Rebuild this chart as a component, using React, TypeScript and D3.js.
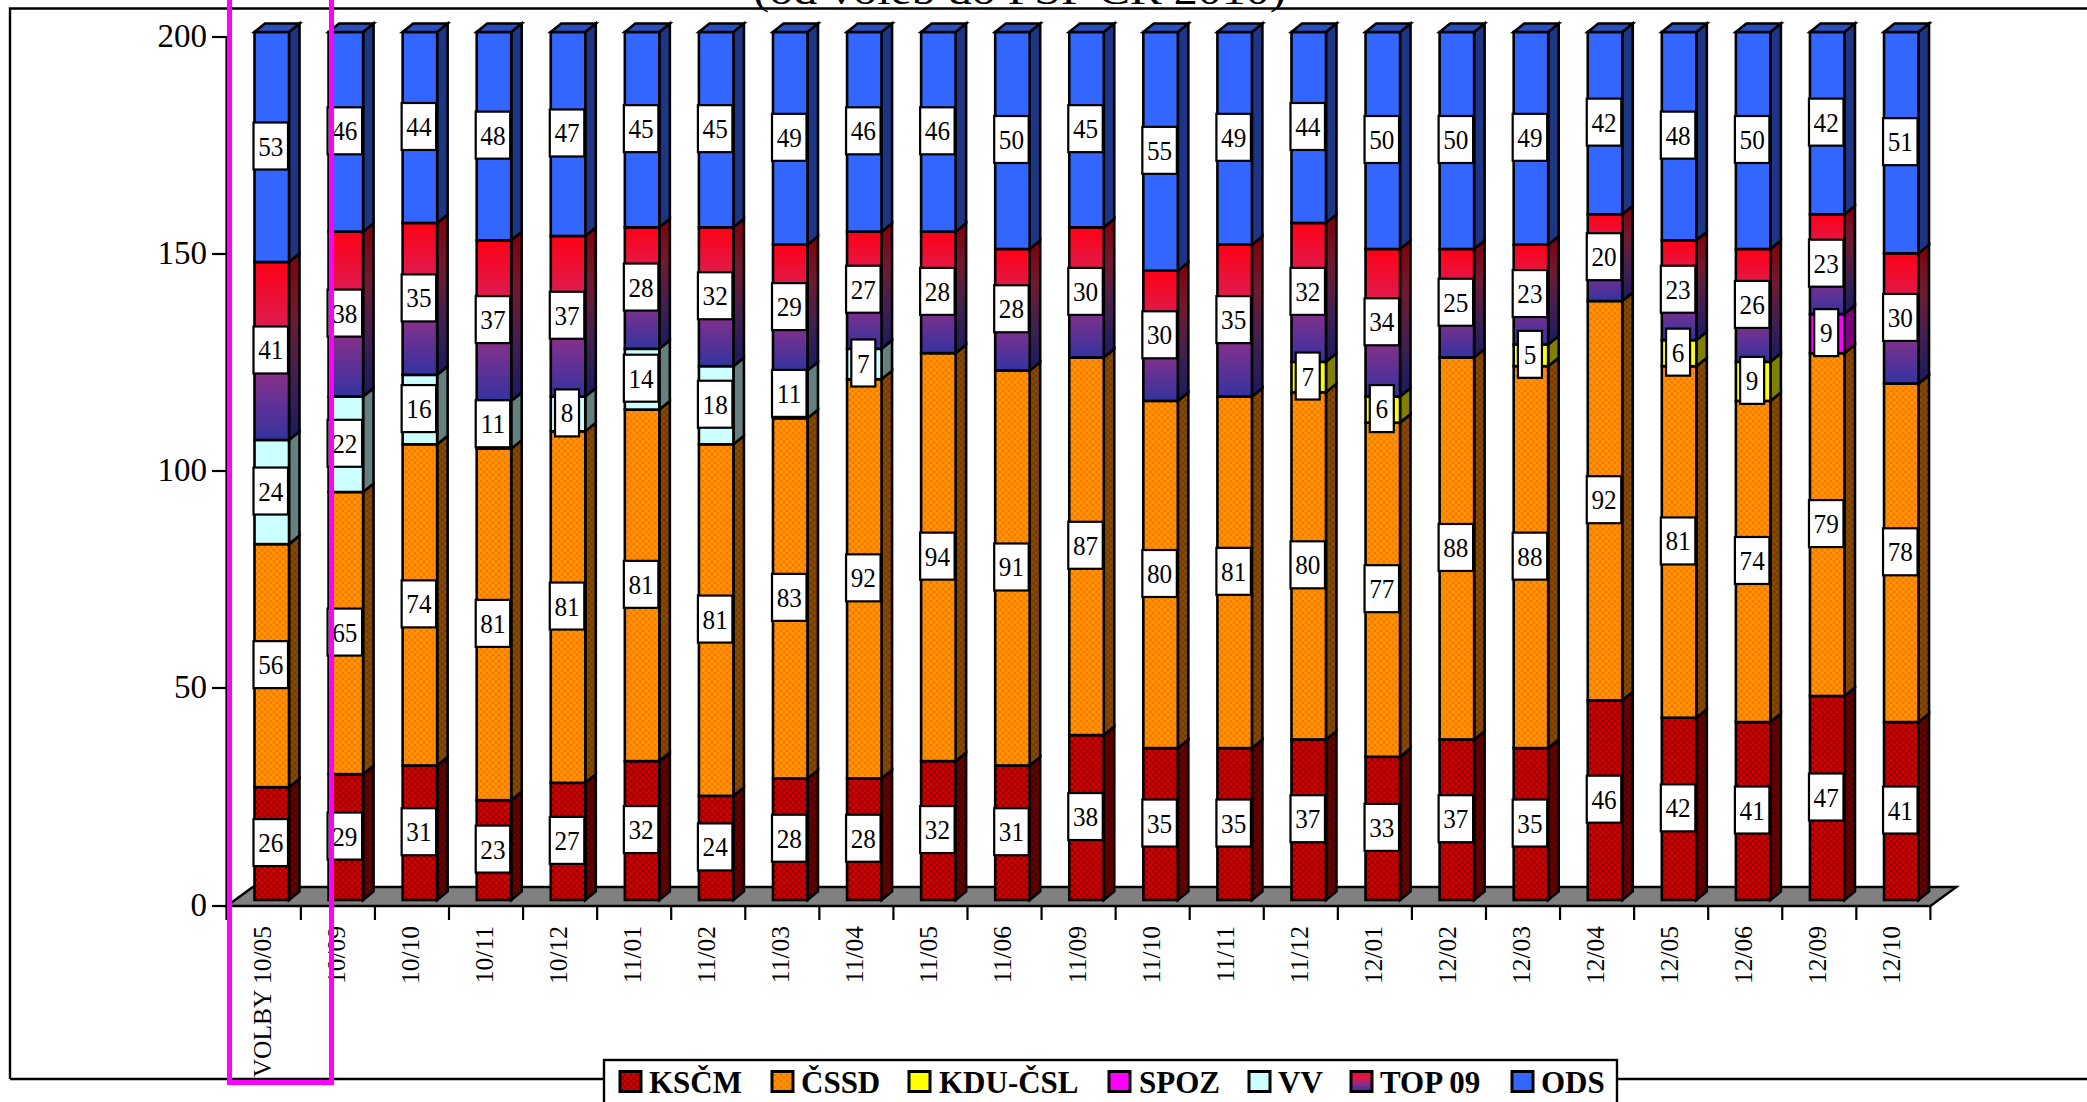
import React from "react";
import * as d3 from "d3";

const categories = ["VOLBY 10/05","10/09","10/10","10/11","10/12","11/01","11/02","11/03","11/04","11/05","11/06","11/09","11/10","11/11","11/12","12/01","12/02","12/03","12/04","12/05","12/06","12/09","12/10"];
const KSCM = [26,29,31,23,27,32,24,28,28,32,31,38,35,35,37,33,37,35,46,42,41,47,41];
const CSSD = [56,65,74,81,81,81,81,83,92,94,91,87,80,81,80,77,88,88,92,81,74,79,78];
const KDU = [0,0,0,0,0,0,0,0,0,0,0,0,0,0,7,6,0,5,0,6,9,0,0];
const SPOZ = [0,0,0,0,0,0,0,0,0,0,0,0,0,0,0,0,0,0,0,0,0,9,0];
const VV = [24,22,16,11,8,14,18,11,7,0,0,0,0,0,0,0,0,0,0,0,0,0,0];
const TOP09 = [41,38,35,37,37,28,32,29,27,28,28,30,30,35,32,34,25,23,20,23,26,23,30];
const ODS = [53,46,44,48,47,45,45,49,46,46,50,45,55,49,44,50,50,49,42,48,50,42,51];
const yTicks = [0,50,100,150,200];
const seriesNames = ["KSČM","ČSSD","KDU-ČSL","SPOZ","VV","TOP 09","ODS"];
const seriesValues = [KSCM,CSSD,KDU,SPOZ,VV,TOP09,ODS];
const frontFills = ["url(#pRed)","url(#pOrange)","#ffff00","#ff00ff","#ccffff","url(#gTop)","#3366ff"];
const sideFills = ["url(#pRedD)","url(#pOrangeD)","#808000","#800080","#668080","url(#gTopD)","#1c3685"];
const legendSwatchX = [620,772,909,1109,1249,1351,1512];
const legendTextX = [649,801,939,1139,1278,1380,1541];
const titleText = "(od voleb do PSP ČR 2010)";

const x = d3.scaleLinear().domain([0, 23]).range([226.8, 1930.4]);
const y = d3.scaleLinear().domain([0, 200]).range([900, 32]);
const floorY = 906;
const barOffset = 27.7;
const barW = 34.5;
const dx = 10.5;
const dy = 8.5;
const serif = "'Liberation Serif','Times New Roman',serif";

const rows = categories.map((c, i) => {
  const r: Record<string, number | string> = { c };
  seriesNames.forEach((s, j) => (r[s] = seriesValues[j][i]));
  return r;
});
const stacked = d3.stack<any>().keys(seriesNames)(rows as any);
const line = d3.line();

function Patterns() {
  const weave = (id: string, base: string, dark: string, light: string) => (
    <pattern id={id} width="6" height="6" patternUnits="userSpaceOnUse">
      <rect width="6" height="6" fill={base} />
      <path d="M0 0h2v2H0zM3 3h2v2H3z" fill={dark} />
      <path d="M3 0h2v2H3zM0 3h2v2H0z" fill={light} />
    </pattern>
  );
  return (
    <defs>
      {weave("pRed", "#b80000", "#900000", "#dc0000")}
      {weave("pRedD", "#5c0000", "#480000", "#6e0000")}
      {weave("pOrange", "#ff8a00", "#f07800", "#ff9800")}
      {weave("pOrangeD", "#804400", "#703a00", "#8c4c00")}
      <linearGradient id="gTop" x1="0" y1="0" x2="0" y2="1">
        <stop offset="0" stopColor="#ff0015" />
        <stop offset="0.33" stopColor="#e01a4c" />
        <stop offset="0.66" stopColor="#80308c" />
        <stop offset="1" stopColor="#3333a0" />
      </linearGradient>
      <linearGradient id="gTopD" x1="0" y1="0" x2="0" y2="1">
        <stop offset="0" stopColor="#80000a" />
        <stop offset="0.33" stopColor="#701a30" />
        <stop offset="0.66" stopColor="#402050" />
        <stop offset="1" stopColor="#1a1a60" />
      </linearGradient>
    </defs>
  );
}

export default function App() {
  const bars = categories.map((_, i) => x(i) + barOffset);
  return (
    <svg width={2087} height={1102} viewBox="0 0 2087 1102" style={{ position: "absolute", left: 0, top: 0, background: "#fff" }} fontFamily={serif}>
      <Patterns />
      {/* outer frame */}
      <path d="M10 1079V8.5H2087M10 1079H2087" fill="none" stroke="#000" strokeWidth={2.4} />
      <text transform="translate(1019.5,4) scale(1.17,1)" fontSize={41} textAnchor="middle">{titleText}</text>

      {/* y axis */}
      <path d={`M226.5 ${y(200) + 5}V920`} stroke="#000" strokeWidth={2.2} fill="none" />
      {yTicks.map((t) => {
        const ty = t === 0 ? floorY : y(t) + 5;
        return (
          <g key={t}>
            <line x1={212} x2={227} y1={ty} y2={ty} stroke="#000" strokeWidth={2.2} />
            <text x={207} y={ty + 10} fontSize={33} textAnchor="end">{t}</text>
          </g>
        );
      })}

      {/* floor */}
      <path
        d={line([[x(0), floorY], [x(0) + 26, floorY - 19], [x(23) + 26, floorY - 19], [x(23), floorY]])! + "Z"}
        fill="#808080" stroke="#000" strokeWidth={2.4}
      />
      {d3.range(1, 24).map((i) => (
        <line key={i} x1={x(i)} x2={x(i)} y1={floorY} y2={920} stroke="#000" strokeWidth={2.2} />
      ))}

      {/* bars */}
      {stacked.map((s, j) => (
        <g key={s.key}>
          {s.map((d, i) => {
            if (d[1] === d[0]) return null;
            const x0 = bars[i];
            const x1 = x0 + barW;
            const yb = y(d[0]);
            const yt = y(d[1]);
            return (
              <g key={i} stroke="#000" strokeWidth={2.6} strokeLinejoin="miter">
                <path d={line([[x1, yb], [x1 + dx, yb - dy], [x1 + dx, yt - dy], [x1, yt]])! + "Z"} fill={sideFills[j]} />
                <rect x={x0} y={yt} width={barW} height={yb - yt} fill={frontFills[j]} />
                {d[1] === 200 && (
                  <path d={line([[x0, yt], [x0 + dx, yt - dy], [x1 + dx, yt - dy], [x1, yt]])! + "Z"} fill="#2850c0" />
                )}
              </g>
            );
          })}
        </g>
      ))}

      {/* data labels */}
      {stacked.map((s) => (
        <g key={s.key}>
          {s.map((d, i) => {
            const v = d[1] - d[0];
            if (!v) return null;
            const cx = bars[i] + barW / 2 - 1;
            const cy = y((d[0] + d[1]) / 2) - 1;
            const w = v < 10 ? 24 : 34.5;
            return (
              <g key={i}>
                <rect x={cx - w / 2} y={cy - 23.5} width={w} height={47} fill="#fff" stroke="#000" strokeWidth={2.2} />
                <text transform={`translate(${cx},${cy + 9.5}) scale(0.9,1)`} fontSize={28} textAnchor="middle">{v}</text>
              </g>
            );
          })}
        </g>
      ))}

      {/* category labels */}
      {categories.map((c, i) => (
        <text key={c} transform={`translate(${x(i) + 44},926) rotate(-90)`} fontSize={25.5} textAnchor="end">{c}</text>
      ))}

      {/* legend */}
      <rect x={604} y={1060} width={1013} height={60} fill="#fff" stroke="#000" strokeWidth={2.4} />
      {seriesNames.map((n, j) => (
        <g key={n}>
          <rect x={legendSwatchX[j]} y={1071.5} width={21} height={20} fill={frontFills[j]} stroke="#000" strokeWidth={3} />
          <text x={legendTextX[j]} y={1092.5} fontSize={31} fontWeight="bold">{n}</text>
        </g>
      ))}

      {/* highlight */}
      <rect x={229.5} y={-10} width={102} height={1092.5} fill="none" stroke="#ff00ff" strokeWidth={5} />
    </svg>
  );
}
